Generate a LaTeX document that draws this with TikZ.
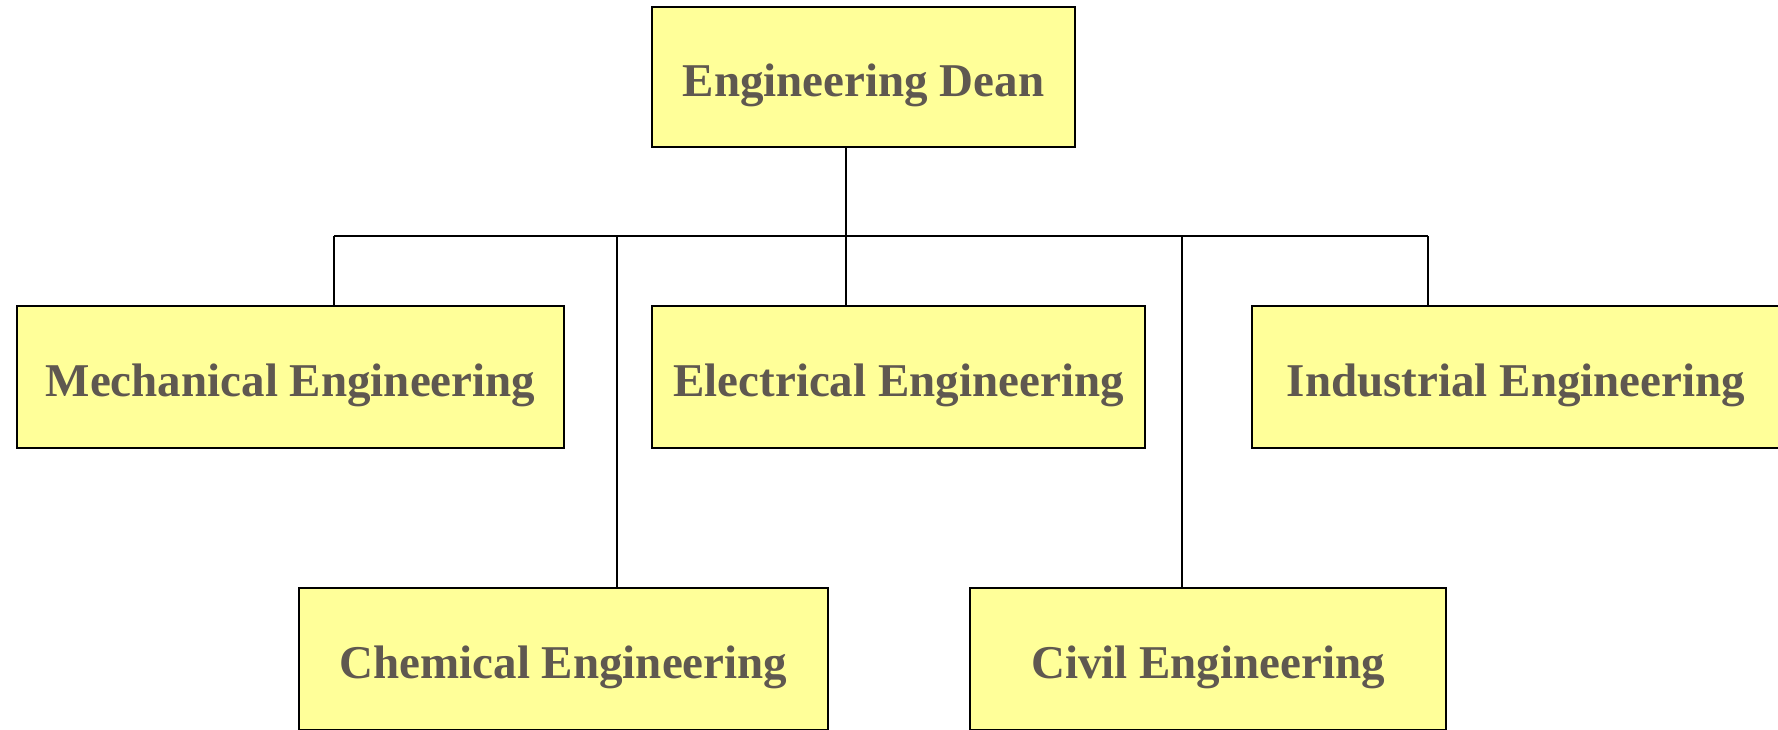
\documentclass[tikz,border=0pt]{standalone}
\usepackage{fontspec}
\setmainfont{Liberation Serif}
\definecolor{boxfill}{HTML}{FFFF99}
\definecolor{boxtext}{HTML}{5F5850}
\begin{document}
\begin{tikzpicture}[x=0.5pt,y=-0.5pt,
  unit/.style={draw=black, line width=1pt, fill=boxfill, text=boxtext,
    font=\fontsize{23.5}{28}\selectfont\bfseries, inner sep=0pt,
    text height=19pt, text depth=0pt},
  link/.style={draw=black, line width=0.8pt}]
\useasboundingbox (0,0) rectangle (1778,729);
\clip (0,0) rectangle (1778,729);

% departments
\node[unit, minimum width=211.5pt, minimum height=70pt] (dean) at (863.5,77) {Engineering Dean};
\node[unit, minimum width=273.5pt, minimum height=71pt] (mech) at (290.5,377) {Mechanical Engineering};
\node[unit, minimum width=246.5pt, minimum height=71pt] (elec) at (898.5,377) {Electrical Engineering};
\node[unit, minimum width=264pt, minimum height=71pt] (indu) at (1516,377) {Industrial Engineering};
\node[unit, minimum width=264.5pt, minimum height=71pt] (chem) at (563.5,659) {Chemical Engineering};
\node[unit, minimum width=238pt, minimum height=71pt] (civil) at (1208,659) {Civil Engineering};

% branch points on the horizontal bus
\coordinate (bm) at (334,236);
\coordinate (bc) at (617,236);
\coordinate (bd) at (846,236);
\coordinate (bv) at (1182,236);
\coordinate (bi) at (1428,236);

\draw[link] (bd |- dean.south) -- (bd);
\draw[link] (bm) -- (bi);
\draw[link] (bm) -- (bm |- mech.north);
\draw[link] (bd) -- (bd |- elec.north);
\draw[link] (bi) -- (bi |- indu.north);
\draw[link] (bc) -- (bc |- chem.north);
\draw[link] (bv) -- (bv |- civil.north);
\end{tikzpicture}
\end{document}
